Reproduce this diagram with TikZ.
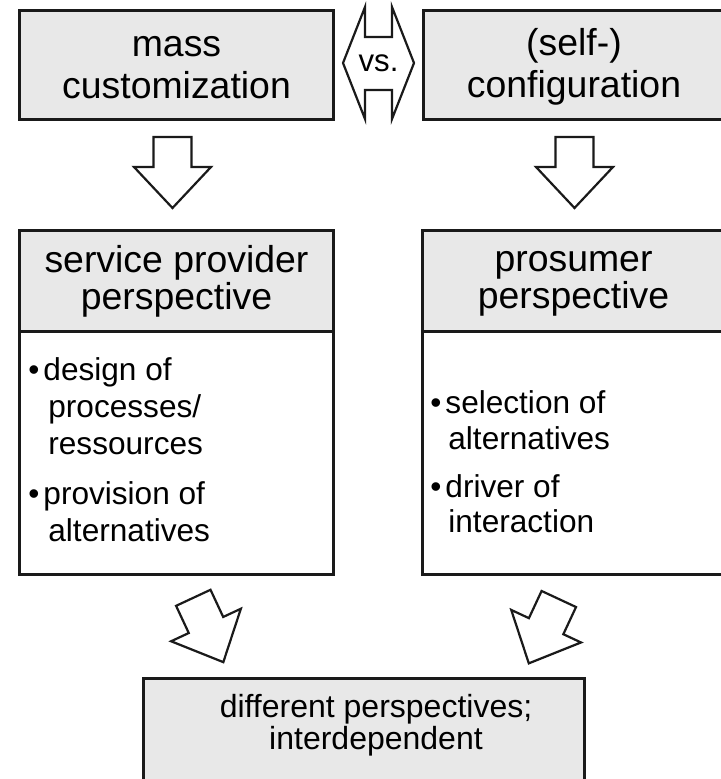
\documentclass[tikz,border=0pt]{standalone}
\usepackage{fontspec}
\setmainfont{Liberation Sans}
\definecolor{boxgray}{HTML}{E8E8E8}
\definecolor{edge}{HTML}{1A1A1A}
\newcommand\headsize{\fontsize{18.7}{18.35}\selectfont}
\newcommand\topsize{\fontsize{18.7}{21}\selectfont}
\newcommand\itemsize{\fontsize{15.8}{18}\selectfont}
\newcommand\vssize{\fontsize{15.6}{16}\selectfont}
\newcommand\footsize{\fontsize{16}{14.4}\selectfont}
% line struts that keep the visual centre of two-line titles in the box middle
\newcommand\hstrut{\rule[-3pt]{0pt}{16pt}}
\newcommand\tstrut{\rule[-2pt]{0pt}{17pt}}
\tikzset{
  panel/.style={draw=edge, line width=1.5pt, fill=boxgray, inner sep=0pt,
    anchor=north west, align=center, font=\headsize},
  bodybox/.style={panel, fill=white},
  itemline/.style={anchor=base west, inner sep=0pt, font=\itemsize},
  blockarrow/.pic={
    \draw[edge, line width=1.1pt, fill=white, line join=miter]
      (-19,0) -- (19,0) -- (19,30) -- (38.5,30) -- (0,71)
      -- (-38.5,30) -- (-19,30) -- cycle;
  }
}
\begin{document}
\begin{tikzpicture}[x=0.5pt,y=-0.5pt]
\useasboundingbox (0,0) rectangle (720,779);

% top row: the two concepts
\node[panel, font=\topsize, minimum width=157pt, minimum height=54.5pt] (mc) at (18,9)
  {\tstrut mass\\\tstrut customization};
\node[panel, font=\topsize, minimum width=150.5pt, minimum height=54.5pt] (sc) at (422,9)
  {\tstrut (self-)\\\tstrut configuration};

% double arrow between them
\draw[edge, line width=1.1pt, fill=white, line join=miter]
  (343,63) -- (365,7) -- (365,37) -- (392,37) -- (392,7) -- (414,63)
  -- (392,119) -- (392,90) -- (365,90) -- (365,119) -- cycle;
\node[font=\vssize, inner sep=0pt] (vs) at (378.5,63) {vs.};

% downward arrows
\pic at (172.5,137) {blockarrow};
\pic at (574.5,137) {blockarrow};

% perspective boxes
\node[panel, minimum width=157pt, minimum height=50.5pt] (spH) at (18,229)
  {\hstrut service provider\\\hstrut perspective};
\node[bodybox, minimum width=157pt, minimum height=121.5pt] (spB) at (18,330) {};
\node[panel, minimum width=151pt, minimum height=50.5pt] (prH) at (421,229)
  {\hstrut prosumer\\\hstrut perspective};
\node[bodybox, minimum width=151pt, minimum height=121.5pt] (prB) at (421,330) {};

% service provider items
\node[itemline] (l1) at (28,380) {\textbullet\hspace{2pt}design of};
\node[itemline] (l2) at (48,417) {processes/};
\node[itemline] (l3) at (48,454) {ressources};
\node[itemline] (l4) at (28,504) {\textbullet\hspace{2pt}provision of};
\node[itemline] (l5) at (48,541) {alternatives};

% prosumer items
\node[itemline] (r1) at (430,414) {\textbullet\hspace{2pt}selection of};
\node[itemline] (r2) at (448,449) {alternatives};
\node[itemline] (r3) at (430,497) {\textbullet\hspace{2pt}driver of};
\node[itemline] (r4) at (448,532) {interaction};

% converging arrows
\pic[rotate=25] at (193.3,597.8) {blockarrow};
\pic[rotate=-25] at (558.8,599) {blockarrow};

% result box
\node[panel, minimum width=220.5pt, minimum height=60pt] (res) at (142,677) {};
\node[font=\footsize, align=center, inner sep=0pt] (restext) at (376,725)
  {different perspectives;\\interdependent};
\end{tikzpicture}
\end{document}
